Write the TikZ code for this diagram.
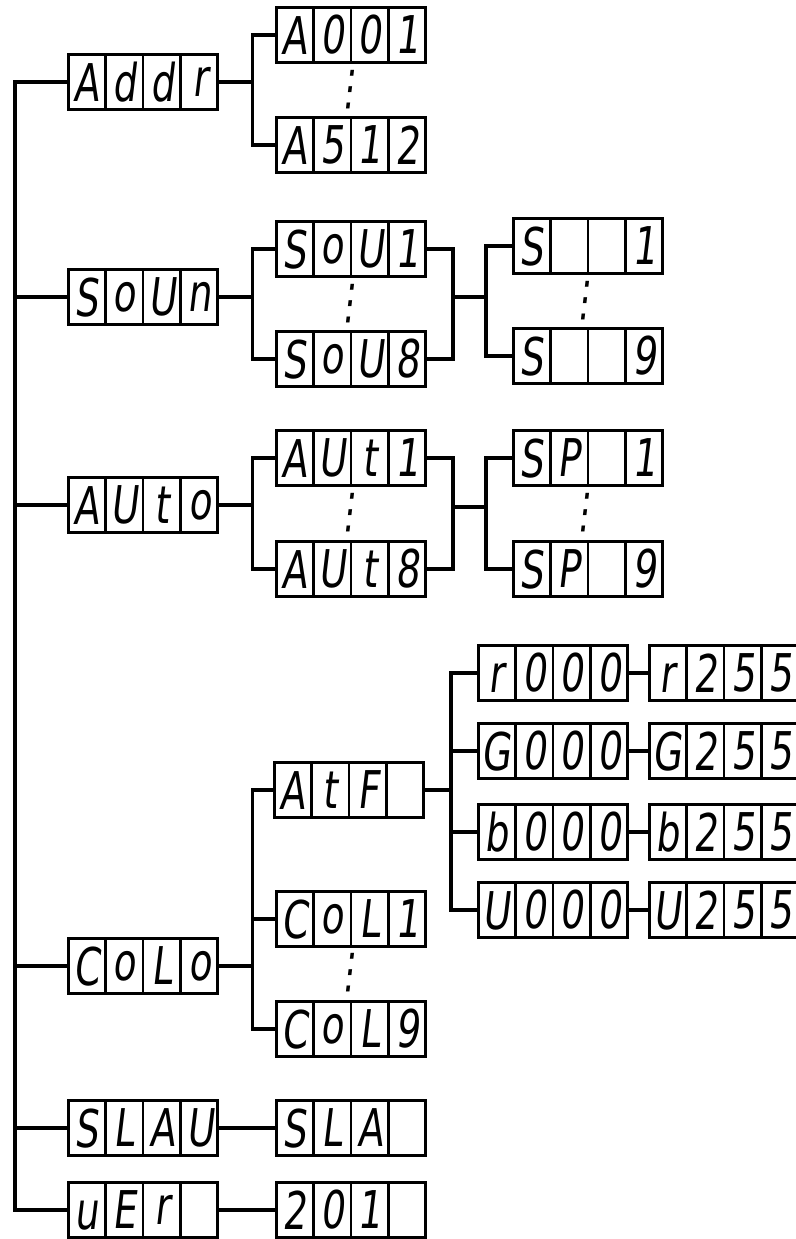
\documentclass[tikz,border=0pt]{standalone}
\usepackage{fontspec}
\newfontfamily\segfont[FakeSlant=0.12,FakeStretch=0.72]{DejaVu Sans}
\usepackage{tikz}
\usetikzlibrary{shapes,positioning}

\newcommand{\cells}[4]{#1\nodepart{two}#2\nodepart{three}#3\nodepart{four}#4}

\begin{document}
\begin{tikzpicture}[
    x=0.025cm, y=-0.025cm,
    display/.style={rectangle split, rectangle split horizontal, rectangle split parts=4,
      draw, line width=2pt, fill=white, inner xsep=0pt, inner ysep=0pt,
      text width=0.875cm, align=center, text height=1.18cm, text depth=0.195cm,
      font=\segfont\fontsize{37}{37}\selectfont},
    more/.style={inner sep=0pt, font=\segfont\fontsize{34}{34}\selectfont},
    wire/.style={line width=2.3pt}
  ]
    \useasboundingbox (0,0) rectangle (796,1239);

    % main menu
    \node[display] (addr) at (143,82) {\cells{A}{d}{d}{r}};
    \node[display] (soun) at (143,297) {\cells{S}{o}{U}{n}};
    \node[display] (auto) at (143,505) {\cells{A}{U}{t}{o}};
    \node[display] (colo) at (143,966) {\cells{C}{o}{L}{o}};
    \node[display] (slav) at (143,1128) {\cells{S}{L}{A}{U}};
    \node[display] (ver) at (143,1210) {\cells{u}{E}{r}{}};

    % second level
    \node[display] (a001) at (351,35) {\cells{A}{0}{0}{1}};
    \node[more] (dotsaddr) at (349,90) {⋮};
    \node[display] (a512) at (351,145) {\cells{A}{5}{1}{2}};
    \node[display] (sou1) at (351,249) {\cells{S}{o}{U}{1}};
    \node[more] (dotssou) at (349,304) {⋮};
    \node[display] (sou8) at (351,359) {\cells{S}{o}{U}{8}};
    \node[display] (aut1) at (351,458) {\cells{A}{U}{t}{1}};
    \node[more] (dotsaut) at (349,513) {⋮};
    \node[display] (aut8) at (351,569) {\cells{A}{U}{t}{8}};
    \node[display] (atf) at (349,790) {\cells{A}{t}{F}{}};
    \node[display] (col1) at (351,919) {\cells{C}{o}{L}{1}};
    \node[more] (dotscol) at (349,973) {⋮};
    \node[display] (col9) at (351,1029) {\cells{C}{o}{L}{9}};
    \node[display] (sla) at (351,1128) {\cells{S}{L}{A}{}};
    \node[display] (v201) at (351,1210) {\cells{2}{0}{1}{}};

    % third level
    \node[display] (s1) at (588,246) {\cells{S}{}{}{1}};
    \node[more] (dotss) at (584,301) {⋮};
    \node[display] (s9) at (588,356) {\cells{S}{}{}{9}};
    \node[display] (sp1) at (588,458) {\cells{S}{P}{}{1}};
    \node[more] (dotssp) at (584,513) {⋮};
    \node[display] (sp9) at (588,569) {\cells{S}{P}{}{9}};

    % colour values
    \node[display] (r000) at (553,673) {\cells{r}{0}{0}{0}};
    \node[display] (r255) at (724,673) {\cells{r}{2}{5}{5}};
    \node[display] (g000) at (553,751) {\cells{G}{0}{0}{0}};
    \node[display] (g255) at (724,751) {\cells{G}{2}{5}{5}};
    \node[display] (b000) at (553,832) {\cells{b}{0}{0}{0}};
    \node[display] (b255) at (724,832) {\cells{b}{2}{5}{5}};
    \node[display] (u000) at (553,910) {\cells{U}{0}{0}{0}};
    \node[display] (u255) at (724,910) {\cells{U}{2}{5}{5}};

    % trunk
    \coordinate (trunk) at (15,82);
    \draw[wire] (addr.west) -- (trunk) |- (ver.west);
    \foreach \n in {soun,auto,colo,slav}
      \draw[wire] (\n.west) -- (\n.west -| trunk);

    % forks
    \foreach \p/\c in {addr/a001,addr/a512,soun/sou1,soun/sou8,auto/aut1,auto/aut8,colo/atf,colo/col1,colo/col9}
      \draw[wire] (\p.east) -- ++(34,0) |- (\c.west);
    \draw[wire] (slav) -- (sla);
    \draw[wire] (ver) -- (v201);

    % joins
    \coordinate (joinsou) at (453,297);
    \coordinate (splitsou) at (486,297);
    \draw[wire] (sou1.east) -| (joinsou) |- (sou8.east);
    \draw[wire] (joinsou) -- (splitsou);
    \draw[wire] (s1.west) -| (splitsou) |- (s9.west);

    \coordinate (joinaut) at (453,507);
    \coordinate (splitaut) at (486,507);
    \draw[wire] (aut1.east) -| (joinaut) |- (aut8.east);
    \draw[wire] (joinaut) -- (splitaut);
    \draw[wire] (sp1.west) -| (splitaut) |- (sp9.west);

    \coordinate (splitcol) at (451,790);
    \draw[wire] (atf.east) -- (splitcol);
    \draw[wire] (r000.west) -| (splitcol) |- (u000.west);
    \draw[wire] (g000.west) -- (g000.west -| splitcol);
    \draw[wire] (b000.west) -- (b000.west -| splitcol);
    \foreach \c in {r,g,b,u}
      \draw[wire] (\c000) -- (\c255);
  \end{tikzpicture}
\end{document}
